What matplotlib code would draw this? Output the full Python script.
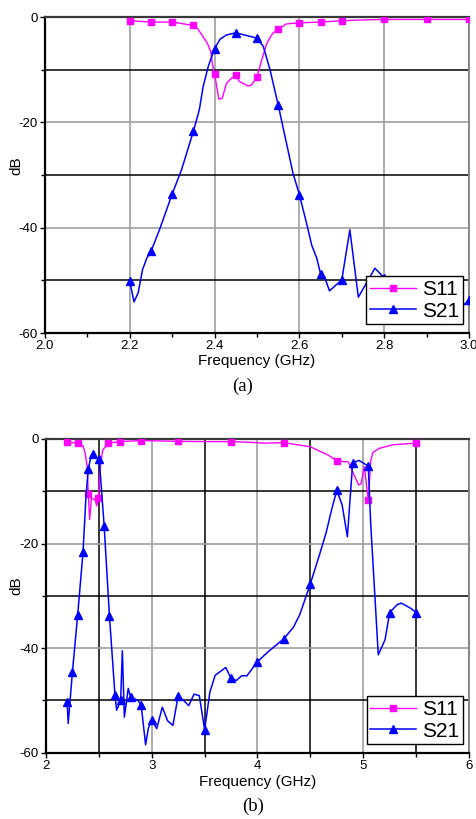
import numpy as np
import matplotlib
matplotlib.use("Agg")
import matplotlib.pyplot as plt
from matplotlib.ticker import MultipleLocator, FormatStrFormatter

plt.rcParams['font.family'] = ['Liberation Sans', 'DejaVu Sans']
plt.rcParams['axes.unicode_minus'] = False

# (a) narrow sweep around 2.45 GHz
freq_a_s11 = [2.20, 2.25, 2.30, 2.35, 2.36, 2.37, 2.383, 2.391, 2.395, 2.40, 2.41,
              2.418, 2.428, 2.44, 2.45, 2.458, 2.479, 2.487, 2.50, 2.511, 2.523,
              2.537, 2.55, 2.57, 2.60, 2.65, 2.70, 2.75, 2.80, 2.90, 3.00]
s11_a = [-0.7, -0.95, -0.95, -1.6, -2.2, -3.4, -5.0, -6.6, -9.0, -10.8, -15.6,
         -15.4, -12.6, -11.6, -11.1, -12.2, -13.1, -12.9, -11.4, -8.2, -5.0,
         -3.1, -2.3, -1.3, -1.1, -0.95, -0.7, -0.55, -0.45, -0.45, -0.45]
marks_a_s11 = [2.20, 2.25, 2.30, 2.35, 2.40, 2.45, 2.50, 2.55, 2.60, 2.65, 2.70,
               2.80, 2.90, 3.00]

freq_a_s21 = [2.20, 2.21, 2.22, 2.23, 2.24, 2.25, 2.27, 2.30, 2.322, 2.35, 2.364,
              2.373, 2.385, 2.40, 2.413, 2.428, 2.45, 2.50, 2.515, 2.531, 2.55,
              2.585, 2.60, 2.617, 2.629, 2.641, 2.65, 2.66, 2.671, 2.70, 2.719,
              2.739, 2.778, 2.80, 2.85, 2.90, 2.94, 3.00]
s21_a = [-50.2, -54.1, -52.3, -48.0, -45.8, -44.5, -40.4, -33.6, -29.0, -21.7, -17.6,
         -13.2, -9.4, -6.0, -4.2, -3.4, -3.0, -4.0, -5.6, -10.1, -16.7,
         -29.7, -33.7, -39.2, -43.3, -45.8, -48.8, -49.5, -52.0, -49.9, -40.4,
         -53.2, -47.7, -49.5, -51.5, -53.0, -58.4, -53.7]
marks_a_s21 = [2.20, 2.25, 2.30, 2.35, 2.40, 2.45, 2.50, 2.55, 2.60, 2.65, 2.70,
               2.80, 2.90, 3.00]

# (b) wide sweep 2-6 GHz
freq_b_s11 = [2.20, 2.30, 2.35, 2.37, 2.39, 2.40, 2.413, 2.43, 2.45, 2.466, 2.479,
              2.495, 2.51, 2.536, 2.59, 2.70, 2.90, 3.25, 3.50, 3.75, 4.00, 4.05,
              4.25, 4.50, 4.67, 4.75, 4.86, 4.92, 4.957, 4.979, 5.01, 5.048, 5.07,
              5.09, 5.15, 5.28, 5.50]
s11_b = [-0.6, -0.8, -1.3, -2.7, -5.3, -10.6, -15.4, -11.3, -11.5, -11.7, -12.8,
         -11.3, -5.9, -2.1, -0.8, -0.5, -0.3, -0.45, -0.5, -0.5, -0.7, -0.8,
         -0.7, -1.5, -3.1, -4.2, -4.4, -7.2, -8.8, -8.6, -5.3, -11.7, -4.3,
         -2.6, -1.8, -1.1, -0.8]
marks_b_s11 = [2.20, 2.30, 2.40, 2.495, 2.59, 2.70, 2.90, 3.25, 3.75, 4.25, 4.75,
               5.048, 5.50]

freq_b_s21 = [2.20, 2.21, 2.25, 2.30, 2.35, 2.378, 2.40, 2.425, 2.447, 2.473, 2.504,
              2.55, 2.60, 2.652, 2.668, 2.706, 2.722, 2.741, 2.778, 2.80, 2.87,
              2.90, 2.942, 2.968, 3.00, 3.047, 3.10, 3.15, 3.20, 3.25, 3.30,
              3.35, 3.40, 3.45, 3.50, 3.55, 3.60, 3.70, 3.75, 3.80, 3.85,
              3.90, 4.00, 4.10, 4.25, 4.34, 4.40, 4.50, 4.59, 4.648, 4.70,
              4.75, 4.80, 4.85, 4.90, 4.96, 5.00, 5.048, 5.07, 5.09, 5.142,
              5.206, 5.25, 5.32, 5.36, 5.45, 5.50]
s21_b = [-50.4, -54.4, -44.6, -33.6, -21.7, -11.0, -5.8, -3.4, -2.9, -3.5, -3.9,
         -16.6, -33.8, -48.9, -51.9, -50.0, -40.5, -53.2, -47.7, -49.4, -50.0,
         -50.9, -58.5, -55.3, -53.7, -55.4, -51.3, -53.9, -54.8, -49.1, -50.0,
         -51.0, -48.8, -49.1, -55.6, -48.4, -45.2, -43.7, -45.8, -46.2, -45.3,
         -45.3, -42.6, -40.7, -38.2, -36.0, -33.6, -27.7, -21.9, -18.0, -13.6,
         -9.8, -12.6, -18.7, -4.6, -4.1, -4.6, -5.2, -16.0, -23.0, -41.3,
         -38.4, -33.2, -31.7, -31.4, -32.4, -33.2]
marks_b_s21 = [2.20, 2.25, 2.30, 2.35, 2.40, 2.447, 2.504, 2.55, 2.60, 2.652, 2.706,
               2.80, 2.90, 3.00, 3.25, 3.50, 3.75, 4.00, 4.25, 4.50, 4.75, 4.90,
               5.048, 5.25, 5.50]

S11_COLOR = '#ff00ff'
S21_COLOR = '#0000ff'


def mark_idx(freq, marks):
    return [i for i, f in enumerate(freq) if np.any(np.isclose(f, marks))]


def draw_panel(ax, fa, sa, ma, fb, sb, mb):
    ax.plot(fa, sa, color=S11_COLOR, lw=1.0, marker='s', ms=4.8,
            markevery=mark_idx(fa, ma), label='S11', zorder=4)
    ax.plot(fb, sb, color=S21_COLOR, lw=1.1, marker='^', ms=6.2,
            markevery=mark_idx(fb, mb), label='S21', zorder=5)
    ax.set_ylim(-60, 0)
    ax.yaxis.set_major_locator(MultipleLocator(20))
    ax.yaxis.set_minor_locator(MultipleLocator(10))
    ax.tick_params(which='both', direction='out', width=1, labelsize=9.5, pad=1.5)
    ax.tick_params(which='major', length=3.5)
    ax.tick_params(which='minor', length=3)
    ax.grid(which='major', color='#a0a0a0', lw=1.2, zorder=1)
    ax.spines['left'].set_linewidth(1.6)
    ax.spines['bottom'].set_linewidth(1.6)
    ax.spines['top'].set_color('#3a3a3a')
    ax.spines['top'].set_linewidth(1.6)
    ax.spines['right'].set_color('#808080')
    ax.spines['right'].set_linewidth(1.3)
    ax.set_xlabel('Frequency (GHz)', fontsize=11)
    ax.set_ylabel('dB', fontsize=11)
    ax.xaxis.label.set_va('center')
    ax.yaxis.label.set_va('center')
    leg = ax.legend(loc='lower right', fontsize=15, handlelength=2.2,
                    handletextpad=0.3, labelspacing=0.12, borderpad=0.18,
                    borderaxespad=0, fancybox=False, framealpha=1,
                    edgecolor='black')
    leg.get_frame().set_linewidth(1.0)
    leg.set_zorder(10)
    return leg


fig = plt.figure(figsize=(4.76, 8.19), dpi=100)

ax1 = fig.add_axes([0.0945, 0.5934, 0.8908, 0.3858])
leg1 = draw_panel(ax1, freq_a_s11, s11_a, marks_a_s11, freq_a_s21, s21_a, marks_a_s21)
ax1.set_xlim(2.0, 3.0)
ax1.xaxis.set_major_locator(MultipleLocator(0.2))
ax1.xaxis.set_minor_locator(MultipleLocator(0.1))
ax1.xaxis.set_major_formatter(FormatStrFormatter('%.1f'))
ax1.yaxis.grid(which='minor', color='black', lw=1.1, zorder=1)
leg1.set_bbox_to_anchor((0.986, 0.0275), transform=ax1.transAxes)
ax1.xaxis.set_label_coords(0.5, -0.089)
ax1.yaxis.set_label_coords(-0.068, 0.528)

ax2 = fig.add_axes([0.0966, 0.0810, 0.8887, 0.3830])
leg2 = draw_panel(ax2, freq_b_s11, s11_b, marks_b_s11, freq_b_s21, s21_b, marks_b_s21)
ax2.set_xlim(2, 6)
ax2.xaxis.set_major_locator(MultipleLocator(1))
ax2.xaxis.set_minor_locator(MultipleLocator(0.5))
ax2.grid(which='minor', color='black', lw=1.1, zorder=1)
leg2.set_bbox_to_anchor((0.9865, 0.0268), transform=ax2.transAxes)
ax2.xaxis.set_label_coords(0.5, -0.092)
ax2.yaxis.set_label_coords(-0.071, 0.531)

fig.text(243 / 476, 1 - 386 / 819, '(a)', ha='center', va='center',
         family='Liberation Serif', fontsize=13.5)
fig.text(252.7 / 476, 1 - 806.7 / 819, '(b)', ha='center', va='center',
         family='Liberation Serif', fontsize=13.5)

fig.savefig('out.png', dpi=100)
